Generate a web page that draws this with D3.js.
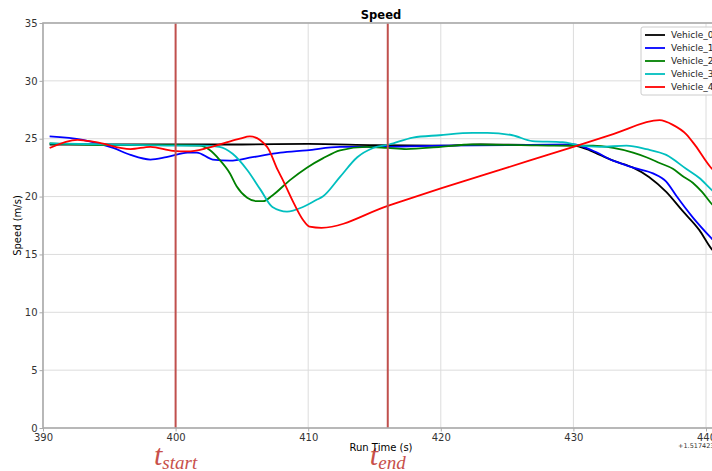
<!DOCTYPE html>
<html><head><meta charset="utf-8">
<script src="https://cdn.jsdelivr.net/npm/d3@7"></script>
<style>body{margin:0;background:#fff;}svg{display:block;font-family:"DejaVu Sans",sans-serif;}</style>
</head><body>
<svg id="c" width="712" height="471"></svg>
<script>
const seriesNames = ["Vehicle_0","Vehicle_1","Vehicle_2","Vehicle_3","Vehicle_4"];
const seriesColors = ["#000000","#0000ff","#008000","#00bfbf","#ff0000"];
const xTicks = [390,400,410,420,430,440];
const yTicks = [0,5,10,15,20,25,30,35];
const markers = [{t:400, label:"start"},{t:416, label:"end"}];

const t0 = [390.5,395,400,405,410,415,420,423,428,430,431,432,433,434.5,435.7,437,438.2,439.5,440.4,440.9];
const v0 = [24.5,24.5,24.5,24.5,24.55,24.45,24.4,24.5,24.45,24.4,24.1,23.6,23.1,22.5,21.7,20.4,18.8,17.1,15.5,14.9];
const t1 = [390.5,393,395.3,396.6,398.1,399.3,400.9,401.6,402.8,404.1,405.8,407.9,409.9,412.4,416,420,425,430,431.4,433,434.5,436,437,437.8,439,440.4,440.9];
const v1 = [25.2,24.9,24.2,23.6,23.2,23.4,23.8,23.8,23.2,23.1,23.4,23.8,24.0,24.3,24.3,24.4,24.45,24.5,24.0,23.1,22.5,22.0,21.3,20.0,18.2,16.4,15.8];
const t2 = [390.5,395,400,401.8,402.6,403.3,404.1,404.6,405.4,406.1,406.6,407.3,408.6,409.9,411.1,412.4,414.4,416,417.4,420,422.4,426,430,431.5,433,434.5,435.5,436.5,437.5,438.2,439,439.7,440.4,440.9];
const v2 = [24.6,24.45,24.45,24.4,24.0,23.2,22.0,20.9,19.9,19.6,19.6,20.1,21.4,22.5,23.3,24.0,24.3,24.2,24.1,24.3,24.5,24.45,24.4,24.4,24.2,23.8,23.4,22.9,22.4,21.8,21.2,20.4,19.4,18.8];
const t3 = [390.5,395,400,402,403.3,404.3,405.4,406.4,407.3,408.4,409.6,410.6,411.1,412.4,413.7,414.9,416.1,417.9,419.9,422.4,423.5,425.4,426.9,429.2,430.5,432,434,435.5,437,438.5,439.5,440.4,440.9];
const v3 = [24.6,24.5,24.4,24.4,24.3,23.7,22.3,20.6,19.1,18.7,19.1,19.7,20.0,21.7,23.4,24.2,24.5,25.1,25.3,25.5,25.5,25.3,24.8,24.7,24.4,24.3,24.4,24.1,23.6,22.4,21.6,20.6,20.1];
const t4 = [390.5,392.6,394,396.6,398.1,399.8,400.9,402.4,403.9,404.85,405.6,406.9,407.7,408.1,408.8,409.6,410.1,411.0,416,420,425,430,433,436.5,437.5,438.5,439.2,440.3,440.9];
const v4 = [24.2,24.9,24.7,24.1,24.3,23.95,23.9,24.2,24.7,25.0,25.2,24.3,22.3,21.4,19.7,18.0,17.4,17.3,19.2,20.7,22.5,24.3,25.4,26.6,26.2,25.4,24.4,22.6,21.9];
const seriesT = [t0,t1,t2,t3,t4];
const seriesV = [v0,v1,v2,v3,v4];

const svg = d3.select("#c");
const L = 43, R = 719, T = 23, B = 428;
const x = d3.scaleLinear().domain([390, 440.98]).range([L, R]);
const y = d3.scaleLinear().domain([0, 35]).range([B, T]);

// grid
svg.append("g").selectAll("line").data(xTicks).join("line")
  .attr("x1", d=>x(d)).attr("x2", d=>x(d)).attr("y1", T).attr("y2", B)
  .attr("stroke", "#dcdcdc").attr("stroke-width", 1);
svg.append("g").selectAll("line").data(yTicks).join("line")
  .attr("x1", L).attr("x2", R).attr("y1", d=>y(d)).attr("y2", d=>y(d))
  .attr("stroke", "#dcdcdc").attr("stroke-width", 1);

// axes
const xAxis = svg.append("g").attr("transform", `translate(0,${B})`)
  .call(d3.axisBottom(x).tickValues(xTicks).tickSize(3.5).tickPadding(2).tickFormat(d3.format("d")));
const yAxis = svg.append("g").attr("transform", `translate(${L},0)`)
  .call(d3.axisLeft(y).tickValues(yTicks).tickSize(3.5).tickPadding(2).tickFormat(d3.format("d")));
[xAxis, yAxis].forEach(a => {
  a.select(".domain").remove();
  a.selectAll("line").attr("stroke", "#aaaaaa");
  a.selectAll("text").attr("font-family", "DejaVu Sans").attr("font-size", 10).attr("fill", "#333");
});

// series
const line = d3.line().curve(d3.curveMonotoneX);
svg.append("clipPath").attr("id","pc").append("rect")
  .attr("x", L).attr("y", T).attr("width", R-L).attr("height", B-T);
const lg = svg.append("g").attr("clip-path","url(#pc)");
seriesNames.forEach((n,i) => {
  const pts = seriesT[i].map((t,j) => [x(t), y(seriesV[i][j])]);
  lg.append("path").attr("d", line(pts)).attr("fill","none")
    .attr("stroke", seriesColors[i]).attr("stroke-width", 1.8);
});

// marker lines
svg.append("g").selectAll("line").data(markers).join("line")
  .attr("x1", d=>x(d.t)).attr("x2", d=>x(d.t)).attr("y1", T).attr("y2", B)
  .attr("stroke", "#c0504d").attr("stroke-width", 2);

// spines
svg.append("rect").attr("x", L).attr("y", T).attr("width", R-L).attr("height", B-T)
  .attr("fill","none").attr("stroke","#aaaaaa").attr("stroke-width", 1.6);

// marker labels
markers.forEach(m => {
  const tx = svg.append("text").attr("x", x(m.t)).attr("y", 465)
    .attr("text-anchor","middle").attr("fill","#c8504a")
    .attr("font-family","Liberation Serif, DejaVu Serif, serif").attr("font-style","italic");
  tx.append("tspan").attr("font-size", 30).text("t");
  tx.append("tspan").attr("font-size", 19).attr("dy", 4).text(m.label);
});

// title & labels
svg.append("text").attr("x", (L+R)/2).attr("y", 19).attr("text-anchor","middle")
  .attr("font-size", 11.5).attr("font-weight","bold").text("Speed");
svg.append("text").attr("x", (L+R)/2).attr("y", 451).attr("text-anchor","middle")
  .attr("font-size", 10).text("Run Time (s)");
svg.append("text").attr("transform", `translate(21,${(T+B)/2}) rotate(-90)`).attr("text-anchor","middle")
  .attr("font-size", 10).text("Speed (m/s)");
svg.append("text").attr("x", 678).attr("y", 448).attr("font-size", 6.5).attr("fill","#333").text("+1.517423e9");

// legend
const leg = svg.append("g").attr("transform","translate(641,27)");
leg.append("rect").attr("x",0).attr("y",0).attr("width",80).attr("height",68).attr("rx",2)
  .attr("fill","#fff").attr("fill-opacity",0.85).attr("stroke","#cccccc");
seriesNames.forEach((n,i) => {
  const yy = 8 + i*13;
  leg.append("line").attr("x1",4).attr("x2",24).attr("y1",yy).attr("y2",yy)
    .attr("stroke", seriesColors[i]).attr("stroke-width", 1.8);
  leg.append("text").attr("x",30).attr("y",yy+3.3).attr("font-size",9).attr("fill","#222").text(n);
});
</script>
</body></html>
